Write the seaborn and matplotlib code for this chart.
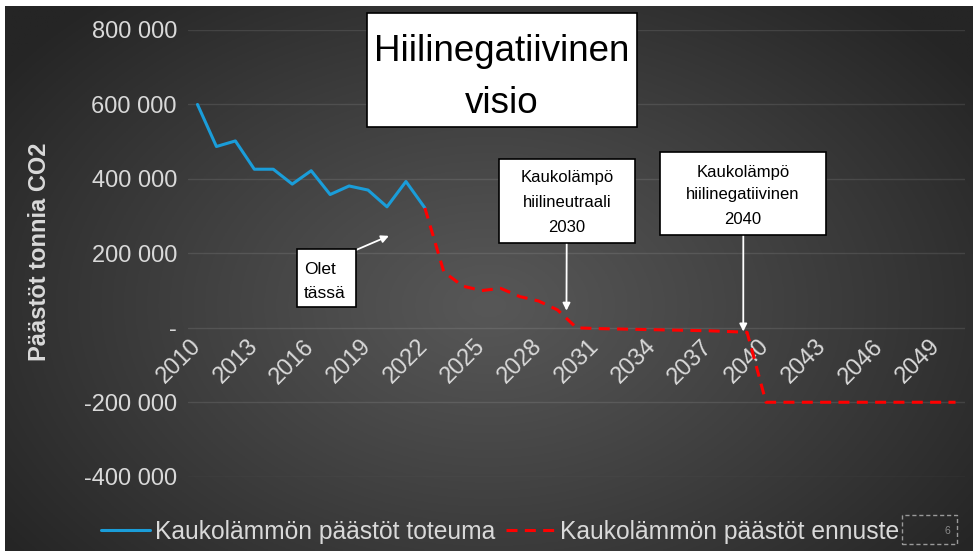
import numpy as np
import seaborn as sns
import matplotlib.pyplot as plt
import matplotlib.ticker as mticker
from matplotlib.patches import Rectangle

# emissions (t CO2)
years_actual = list(range(2010, 2023))
actual = [600000, 487000, 502000, 426000, 426000, 386000, 422000,
          358000, 381000, 370000, 325000, 393000, 322000]

years_forecast = list(range(2022, 2051))
forecast = [322000, 150000, 112000, 100000, 106000, 84000, 72000, 48000, 0,
            -2000, -3000, -4000, -5000, -6000, -7000, -8000, -10000, -12000,
            -200000, -200000, -200000, -200000, -200000, -200000,
            -200000, -200000, -200000, -200000, -200000]

y_ticks = [-400000, -200000, 0, 200000, 400000, 600000, 800000]
x_ticks = list(range(2010, 2051, 3))

label_actual = 'Kaukolämmön päästöt toteuma'
label_forecast = 'Kaukolämmön päästöt ennuste'

sns.set_style('dark')
plt.rcParams['font.family'] = ['Liberation Sans', 'DejaVu Sans']
LIGHT = '#d9d9d9'

W, H = 973, 551
fig = plt.figure(figsize=(W / 100, H / 100), dpi=100, facecolor='white')


def fx(x):
    return x / W


def fy(y):
    return 1 - y / H


# slide background: dark radial gradient
bg = fig.add_axes([fx(5), 0, 1 - fx(5), fy(6)], zorder=-10)
gx, gy = np.meshgrid(np.linspace(0, 1, 400), np.linspace(0, 1, 240))
d = np.sqrt(((gx - 0.5) / 0.62) ** 2 + ((gy - 0.55) / 0.75) ** 2)
shade = (0x57 - (0x57 - 0x25) * np.clip(d, 0, 1) ** 1.1) / 255
bg.imshow(np.dstack([shade] * 3), aspect='auto', extent=(0, 1, 0, 1))
bg.axis('off')

ax = fig.add_axes([fx(188), fy(476.7), fx(777), (476.7 - 30) / H])
ax.set_facecolor('none')

sns.lineplot(x=years_actual, y=actual, ax=ax, color='#1a9dd9', lw=2.2,
             label=label_actual, zorder=3)
sns.lineplot(x=years_forecast, y=forecast, ax=ax, color='#ff0000', lw=2.2,
             linestyle=(0, (3.6, 2.4)), label=label_forecast, zorder=3)

ax.set_xlim(2009.5, 2050.5)
ax.set_ylim(-400000, 800000)
ax.set_yticks(y_ticks)
ax.yaxis.set_major_formatter(mticker.FuncFormatter(
    lambda v, p: '-' if v == 0 else f'{int(v):,}'.replace(',', ' ')))
ax.yaxis.grid(True, color='white', alpha=0.1, lw=1)
ax.xaxis.grid(False)
for s in ax.spines.values():
    s.set_visible(False)
ax.spines['bottom'].set_position(('data', 0))

ax.set_xticks(x_ticks)
ax.set_xticklabels([str(y) for y in x_ticks])
ax.tick_params(axis='y', length=0, pad=8, labelsize=17, labelcolor=LIGHT)
ax.tick_params(axis='x', length=0, pad=11, labelsize=17, labelcolor=LIGHT)
for lbl in ax.get_xticklabels():
    lbl.set_rotation(45)
    lbl.set_ha('right')
    lbl.set_va('center')
    lbl.set_rotation_mode('anchor')
ax.set_xlabel('')
ax.set_ylabel('')

fig.text(fx(40), fy(252), 'Päästöt tonnia CO2', rotation=90, ha='center',
         va='center', color=LIGHT, fontsize=17, fontweight='bold')

ax.legend(loc='center', bbox_to_anchor=(fx(500), fy(532)),
          bbox_transform=fig.transFigure, ncol=2, frameon=False,
          prop={'size': 17.7}, labelcolor=LIGHT,
          handlelength=2.0, handletextpad=0.2, columnspacing=0.45)


def box(x0, y0, x1, y1):
    fig.add_artist(Rectangle((fx(x0), fy(y1)), fx(x1 - x0), (y1 - y0) / H,
                             transform=fig.transFigure, facecolor='white',
                             edgecolor='black', lw=1.2, zorder=5))


def line(x, y, s, size, ha='center'):
    fig.text(fx(x), fy(y), s, ha=ha, va='baseline', fontsize=size,
             color='black', zorder=6)


# title box
box(366.7, 12.7, 637, 127)
line(502, 61, 'Hiilinegatiivinen', 26.5)
line(502, 113, 'visio', 26.5)

# "you are here"
box(296.7, 249.3, 356, 306.7)
line(304, 274.3, 'Olet', 12.5, ha='left')
line(304, 298.3, 'tässä', 12.5, ha='left')

# 2030 milestone
box(499, 159, 635, 243)
for yy, s in zip([182.3, 207.3, 231.7], ['Kaukolämpö', 'hiilineutraali', '2030']):
    line(567, yy, s, 12)

# 2040 milestone
box(660, 151.7, 826, 235)
for yy, s in zip([176.5, 199.5, 224], ['Kaukolämpö', 'hiilinegatiivinen', '2040']):
    line(743, yy, s, 12)

arrow = dict(arrowstyle='-|>', color='white', lw=1.3, mutation_scale=11,
             shrinkA=0, shrinkB=0)
ax.annotate('', xy=(2020.1, 247000), xytext=(fx(356), fy(250)),
            textcoords='figure fraction', arrowprops=arrow, zorder=4)
ax.annotate('', xy=(2029.47, 46000), xytext=(fx(566.7), fy(243)),
            textcoords='figure fraction', arrowprops=arrow, zorder=4)
ax.annotate('', xy=(2038.8, -10000), xytext=(fx(743.3), fy(235)),
            textcoords='figure fraction', arrowprops=arrow, zorder=4)

# slide number placeholder
fig.add_artist(Rectangle((fx(902.3), fy(544.3)), fx(55), 29.3 / H,
                         transform=fig.transFigure, facecolor='none',
                         edgecolor='#9a9a9a', lw=1, linestyle=(0, (3, 2))))
fig.text(fx(947), fy(534), '6', ha='center', va='baseline', fontsize=7.5,
         color='#8a8a8a')

plt.savefig('out.png', dpi=100, facecolor=fig.get_facecolor())
plt.close()
